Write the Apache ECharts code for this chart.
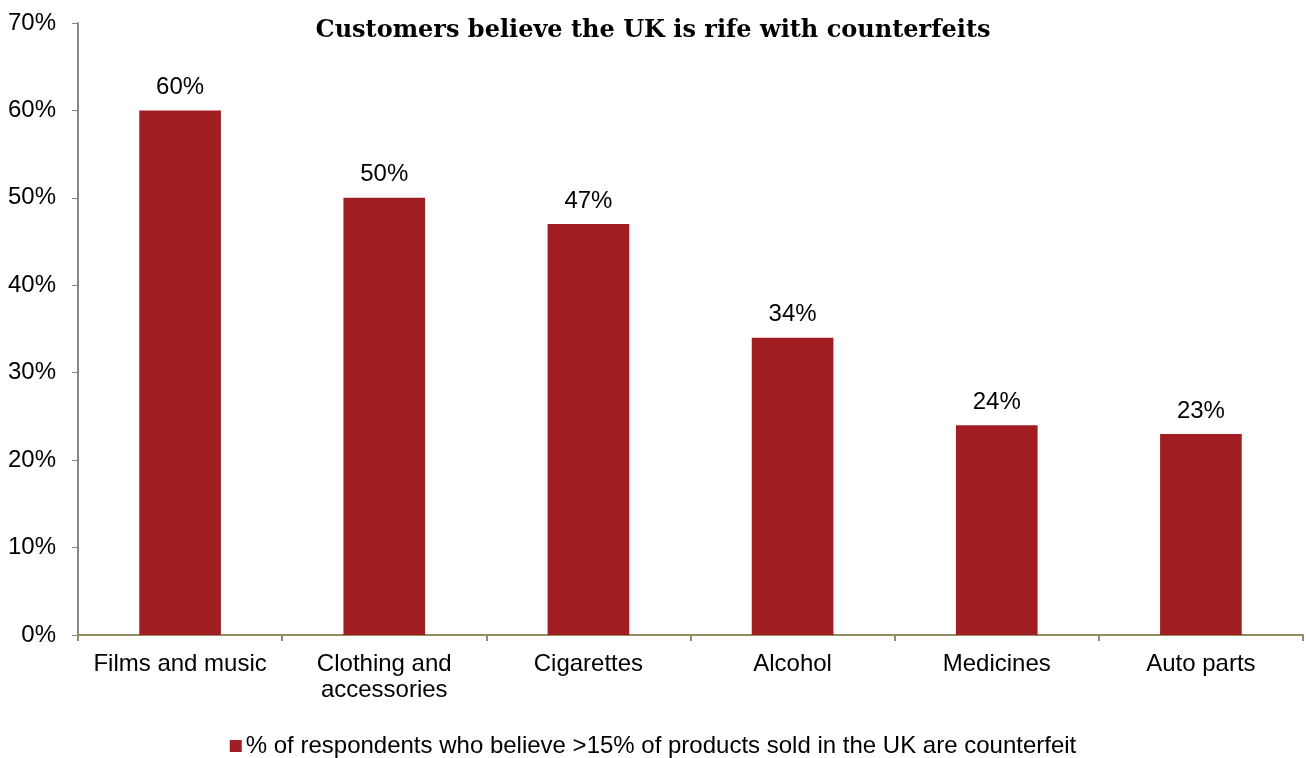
<!DOCTYPE html>
<html><head><meta charset="utf-8">
<script src="https://cdn.jsdelivr.net/npm/echarts@6/dist/echarts.min.js"></script>
<style>html,body{margin:0;padding:0;background:#fff}#c{width:1306px;height:758px}</style>
</head><body><div id="c"></div>
<script>
const categories = ['Films and music', 'Clothing and\naccessories', 'Cigarettes', 'Alcohol', 'Medicines', 'Auto parts'];
const values = [60, 50, 47, 34, 24, 23];
const seriesName = '% of respondents who believe >15% of products sold in the UK are counterfeit';
const titleText = 'Customers believe the UK is rife with counterfeits';

const chart = echarts.init(document.getElementById('c'));
chart.setOption({
  animation: false,
  title: {
    text: titleText, left: 648, top: 14, textAlign: 'center',
    textStyle: { fontFamily: 'DejaVu Serif', fontWeight: 'bold', fontSize: 24, color: '#000' }
  },
  legend: {
    top: 729, left: 'center', itemWidth: 12, itemHeight: 12, itemGap: 6,
    icon: 'rect',
    textStyle: { fontFamily: 'Liberation Sans', fontSize: 24, color: '#000', padding: [0, 0, 0, -1] },
    data: [seriesName]
  },
  grid: { left: 78, right: 3, top: 23, bottom: 123, containLabel: false },
  xAxis: {
    type: 'category', data: categories,
    axisLine: { lineStyle: { color: '#958B62', width: 2 } },
    axisTick: { show: true, length: 6, alignWithLabel: false, lineStyle: { color: '#958B62', width: 2 } },
    axisLabel: { fontFamily: 'Liberation Sans', fontSize: 24, color: '#000', margin: 16, lineHeight: 26, interval: 0 }
  },
  yAxis: {
    type: 'value', min: 0, max: 70, interval: 10,
    axisLine: { show: true, lineStyle: { color: '#868686', width: 2 } },
    axisTick: { show: true, length: 6, lineStyle: { color: '#868686', width: 1 } },
    splitLine: { show: false },
    axisLabel: { fontFamily: 'Liberation Sans', fontSize: 24, color: '#000', margin: 22, formatter: '{value}%' }
  },
  series: [{
    name: seriesName, type: 'bar', data: values, barWidth: '40%',
    itemStyle: { color: '#A01E21' },
    label: { show: true, position: 'top', distance: 11, formatter: '{c}%', fontFamily: 'Liberation Sans', fontSize: 24, color: '#000' }
  }]
});
</script></body></html>
